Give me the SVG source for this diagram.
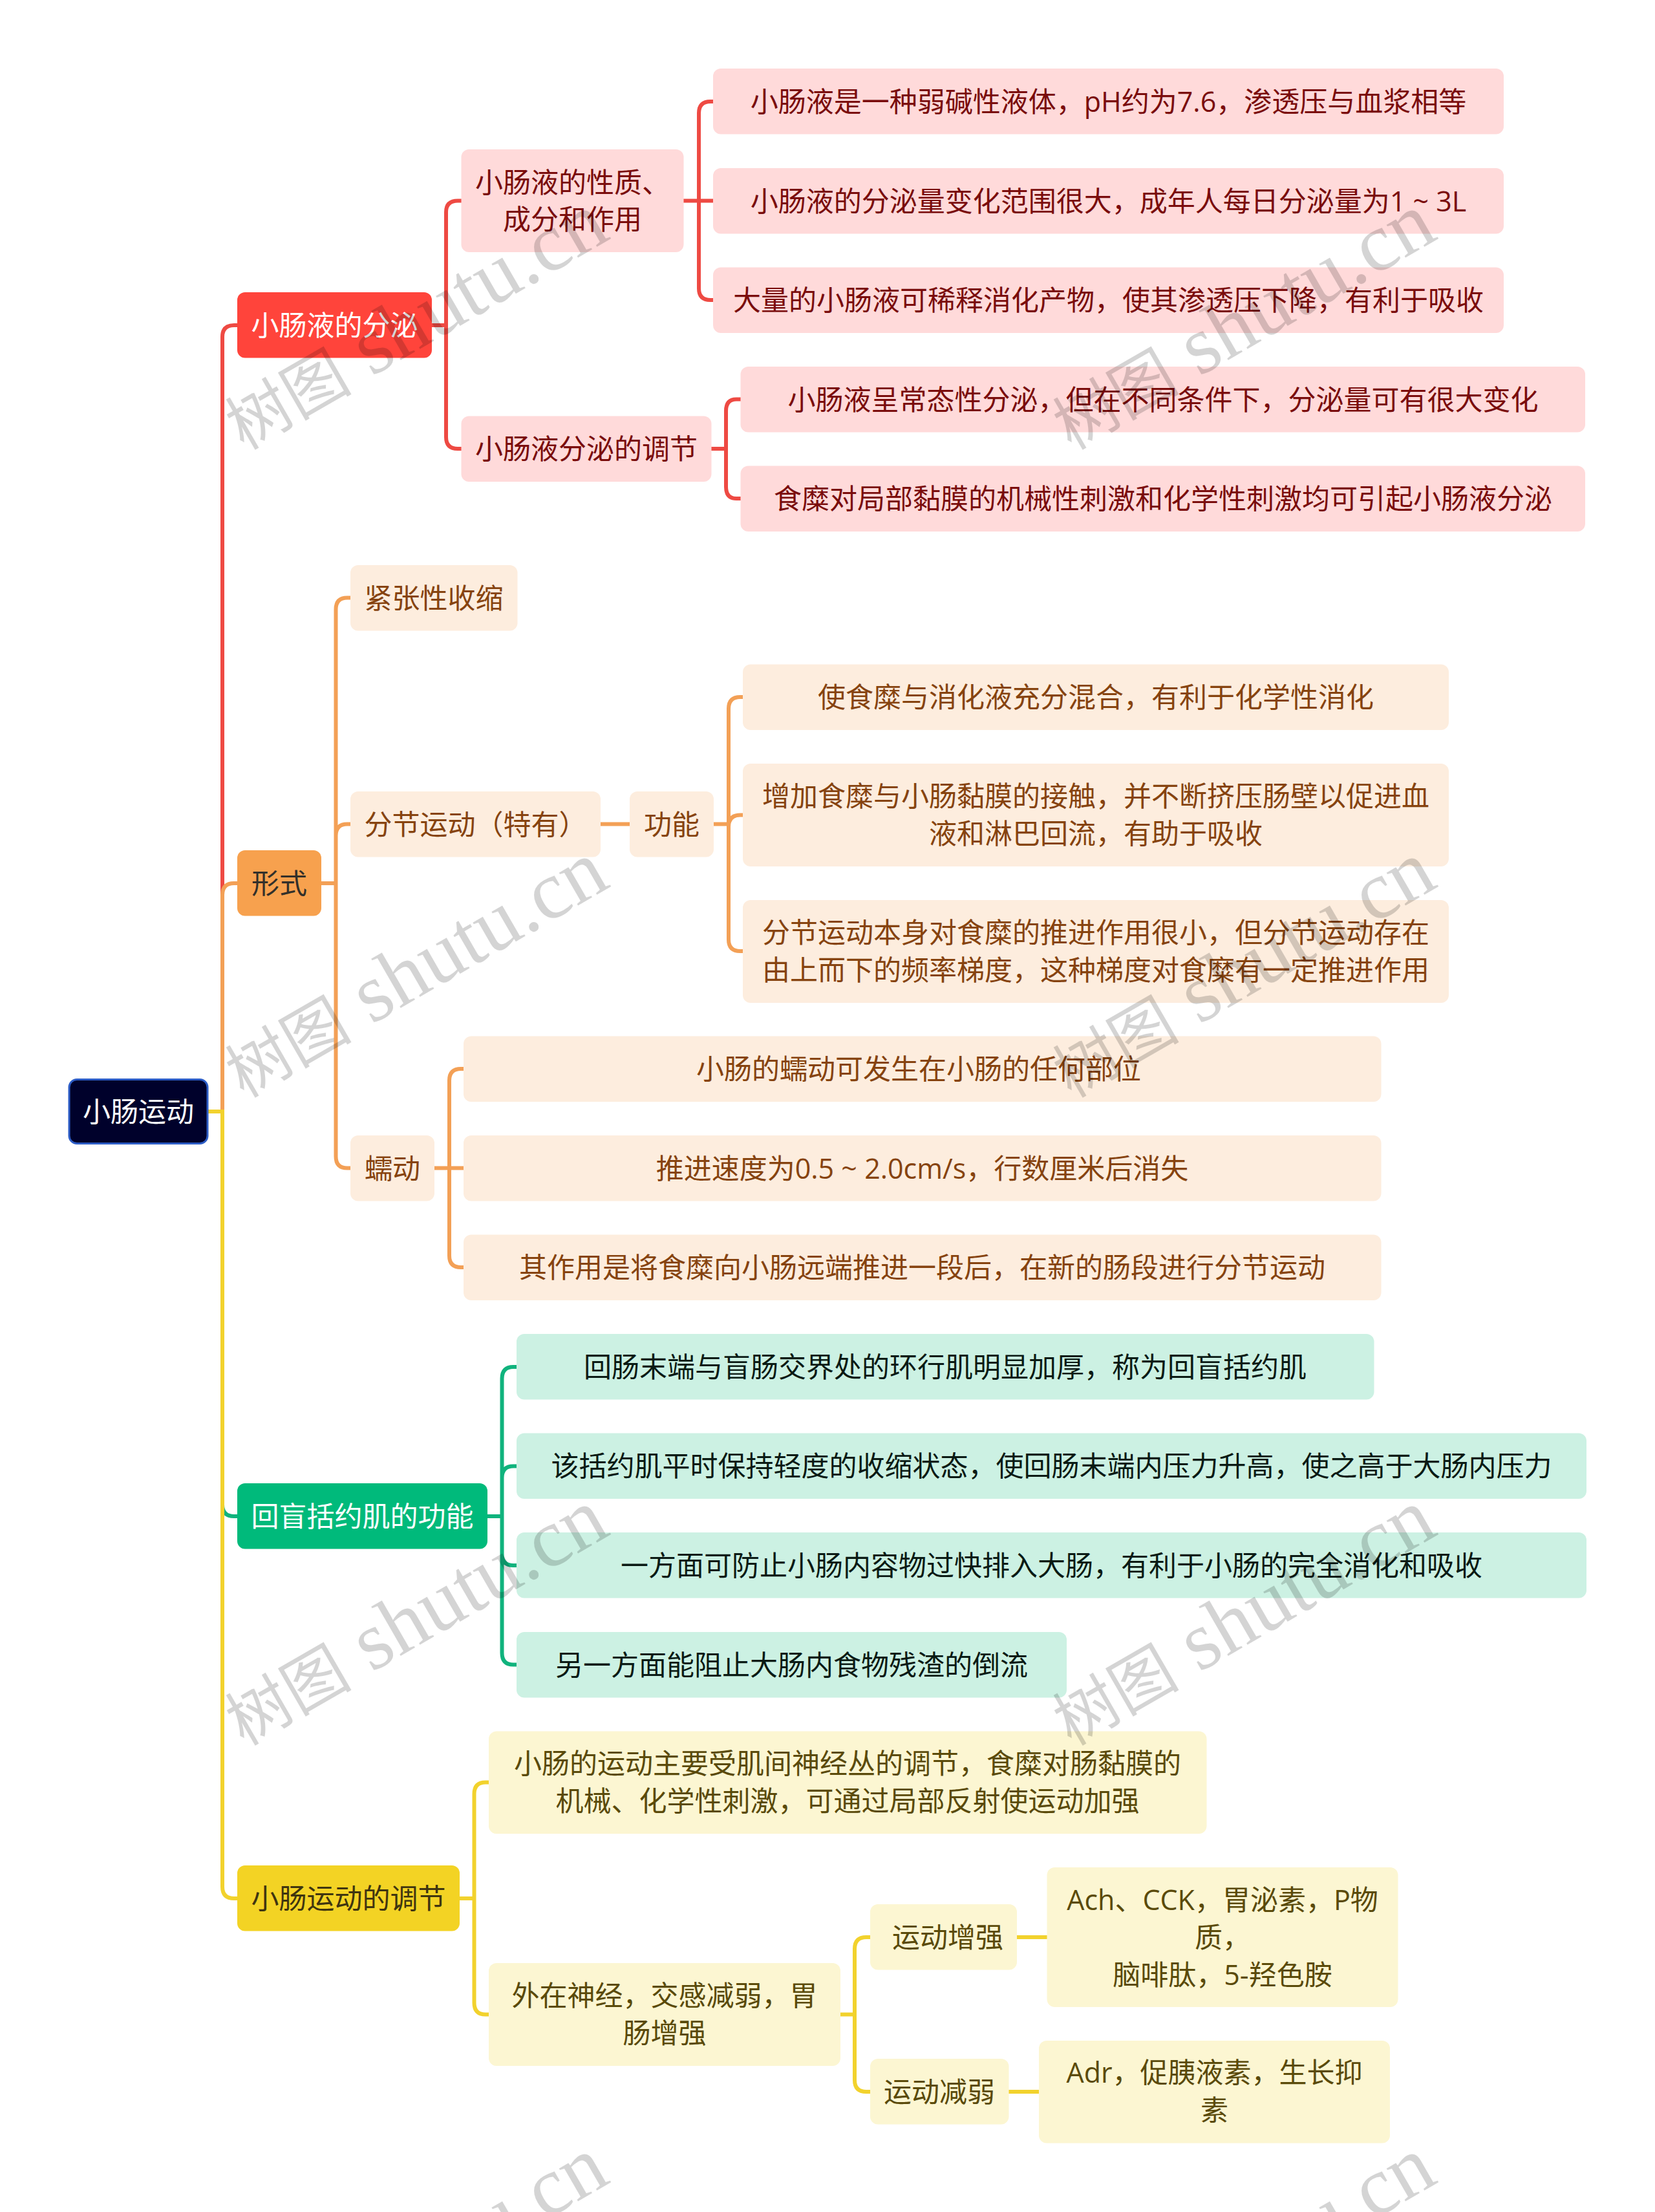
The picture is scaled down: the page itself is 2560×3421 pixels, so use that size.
<svg xmlns="http://www.w3.org/2000/svg" width="2560" height="3421" viewBox="0 0 2560 3421">
<style>
text{font-family:"Open Sans","Noto Sans CJK SC",sans-serif;font-size:43px;text-anchor:middle}
.w text{font-family:"Liberation Serif","Noto Sans CJK SC",serif;font-size:128px;text-anchor:end;fill:#000;fill-opacity:.17}
.w tspan{font-size:98px}
.c path{fill:none;stroke-width:6}
.cr{stroke:#EE4A43}.co{stroke:#F3A056}.cg{stroke:#10B37D}.cy{stroke:#F2D22D}
.r1{fill:#FF443B}.r2{fill:#FFDADA}.o1{fill:#F7A14E}.o2{fill:#FDEDDE}.g1{fill:#00BA7B}.g2{fill:#CCF1E3}.y1{fill:#F3D324}.y2{fill:#FCF6D2}
.tr{fill:#7A0C0C}.to{fill:#86430F}.tg{fill:#0A1A14}.ty{fill:#5A4A0A}.tw{fill:#fff}.td{fill:#3F3510}.tf{fill:#33302A}
</style>
<rect width="2560" height="3421" fill="#fff"/>
<g id="connectors" class="c">
<path class="cr" d="M321 1719H344V521Q344 503 362 503H367"/>
<path class="co" d="M321 1719H344V1384Q344 1366 362 1366H367"/>
<path class="cg" d="M321 1719H344V2327Q344 2345 362 2345H367"/>
<path class="cy" d="M321 1719H344V2918Q344 2936 362 2936H367"/>
<path class="cr" d="M668 503H690M690 503V328Q690 310.500 708 310.500H714M690 503V676Q690 694 708 694H714"/>
<path class="cr" d="M1057 310.500H1103M1081 310.500V175Q1081 157 1099 157H1103M1081 310.500V446Q1081 464 1099 464H1103"/>
<path class="cr" d="M1100 694H1123M1123 694V635.500Q1123 617.500 1139 617.500H1146M1123 694V753Q1123 771 1139 771H1146"/>
<path class="co" d="M497 1366H519.500M519.500 1366V942.500Q519.500 924.500 537 924.500H542M519.500 1366V1292.500Q519.500 1274.500 537 1274.500H542M519.500 1366V1788.500Q519.500 1806.500 537 1806.500H542"/>
<path class="co" d="M929 1274.500H974"/>
<path class="co" d="M1104 1274.500H1127M1127 1274.500V1096Q1127 1078 1145 1078H1149M1127 1274.500V1278.500Q1127 1260.500 1145 1260.500H1149M1127 1274.500V1453Q1127 1471 1145 1471H1149"/>
<path class="co" d="M672 1806.500H717M695 1806.500V1671Q695 1653 713 1653H717M695 1806.500V1942Q695 1960 713 1960H717"/>
<path class="cg" d="M754 2345H776.500M776.500 2345V2132Q776.500 2114 794 2114H799M776.500 2345V2285.500Q776.500 2267.500 794 2267.500H799M776.500 2345V2403Q776.500 2421 794 2421H799M776.500 2345V2556.500Q776.500 2574.500 794 2574.500H799"/>
<path class="cy" d="M711 2936H733.500M733.500 2936V2774.500Q733.500 2756.500 751 2756.500H756M733.500 2936V3097.500Q733.500 3115.500 751 3115.500H756"/>
<path class="cy" d="M1300 3115.500H1322M1322 3115.500V3014Q1322 2996 1340 2996H1346M1322 3115.500V3217Q1322 3235 1340 3235H1346"/>
<path class="cy" d="M1573 2996H1620"/>
<path class="cy" d="M1560 3235H1607"/>
</g>
<g id="root"><rect x="107" y="1669.500" width="214" height="99" rx="12" fill="#00012B" stroke="#2C5CC5" stroke-width="3"/><text class="tw" x="214" y="1735">小肠运动</text></g>
<g id="n1"><rect class="r1" x="367" y="452" width="301" height="101.500" rx="12"/><text class="tw" x="517.500" y="519">小肠液的分泌</text></g>
<g id="n1a"><rect class="r2" x="713.500" y="231" width="344" height="159" rx="12"/><text class="tr" x="885.500" y="297.500">小肠液的性质、</text><text class="tr" x="885.500" y="355">成分和作用</text></g>
<g id="n1a1"><rect class="r2" x="1103" y="106" width="1223" height="101.500" rx="12"/><text class="tr" x="1714.500" y="173">小肠液是一种弱碱性液体，pH约为7.6，渗透压与血浆相等</text></g>
<g id="n1a2"><rect class="r2" x="1103" y="260" width="1223" height="101.500" rx="12"/><text class="tr" x="1714.500" y="326.500">小肠液的分泌量变化范围很大，成年人每日分泌量为1 ~ 3L</text></g>
<g id="n1a3"><rect class="r2" x="1103" y="413.500" width="1223" height="101.500" rx="12"/><text class="tr" x="1714.500" y="480">大量的小肠液可稀释消化产物，使其渗透压下降，有利于吸收</text></g>
<g id="n1b"><rect class="r2" x="713.500" y="643.500" width="387" height="101.500" rx="12"/><text class="tr" x="907" y="710">小肠液分泌的调节</text></g>
<g id="n1b1"><rect class="r2" x="1145.500" y="567" width="1306.500" height="101.500" rx="12"/><text class="tr" x="1799" y="633.500">小肠液呈常态性分泌，但在不同条件下，分泌量可有很大变化</text></g>
<g id="n1b2"><rect class="r2" x="1145.500" y="720.500" width="1306.500" height="101.500" rx="12"/><text class="tr" x="1799" y="787">食糜对局部黏膜的机械性刺激和化学性刺激均可引起小肠液分泌</text></g>
<g id="n2"><rect class="o1" x="367" y="1315" width="130" height="101.500" rx="12"/><text class="tf" x="432" y="1382">形式</text></g>
<g id="n2a"><rect class="o2" x="542" y="874" width="258.500" height="101.500" rx="12"/><text class="to" x="671" y="940.500">紧张性收缩</text></g>
<g id="n2b"><rect class="o2" x="542" y="1224" width="387" height="101.500" rx="12"/><text class="to" x="735.500" y="1290.500">分节运动（特有）</text></g>
<g id="n2b1"><rect class="o2" x="974" y="1224" width="130" height="101.500" rx="12"/><text class="to" x="1039" y="1290.500">功能</text></g>
<g id="n2b1a"><rect class="o2" x="1149" y="1027.500" width="1092" height="101.500" rx="12"/><text class="to" x="1695" y="1094">使食糜与消化液充分混合，有利于化学性消化</text></g>
<g id="n2b1b"><rect class="o2" x="1149" y="1181" width="1092" height="159" rx="12"/><text class="to" x="1695" y="1247">增加食糜与小肠黏膜的接触，并不断挤压肠壁以促进血</text><text class="to" x="1695" y="1304.500">液和淋巴回流，有助于吸收</text></g>
<g id="n2b1c"><rect class="o2" x="1149" y="1392" width="1092" height="159" rx="12"/><text class="to" x="1695" y="1458">分节运动本身对食糜的推进作用很小，但分节运动存在</text><text class="to" x="1695" y="1515.500">由上而下的频率梯度，这种梯度对食糜有一定推进作用</text></g>
<g id="n2c"><rect class="o2" x="542" y="1756" width="130" height="101.500" rx="12"/><text class="to" x="607" y="1822.500">蠕动</text></g>
<g id="n2c1"><rect class="o2" x="717" y="1602.500" width="1419.500" height="101.500" rx="12"/><text class="to" x="1421" y="1669">小肠的蠕动可发生在小肠的任何部位</text></g>
<g id="n2c2"><rect class="o2" x="717" y="1756" width="1419.500" height="101.500" rx="12"/><text class="to" x="1426.500" y="1822.500">推进速度为0.5 ~ 2.0cm/s，行数厘米后消失</text></g>
<g id="n2c3"><rect class="o2" x="717" y="1909.500" width="1419.500" height="101.500" rx="12"/><text class="to" x="1426.500" y="1976">其作用是将食糜向小肠远端推进一段后，在新的肠段进行分节运动</text></g>
<g id="n3"><rect class="g1" x="367" y="2294" width="387" height="101.500" rx="12"/><text class="tw" x="560.500" y="2360.500">回盲括约肌的功能</text></g>
<g id="n3a"><rect class="g2" x="799" y="2063" width="1326.500" height="101.500" rx="12"/><text class="tg" x="1462" y="2129.500">回肠末端与盲肠交界处的环行肌明显加厚，称为回盲括约肌</text></g>
<g id="n3b"><rect class="g2" x="799" y="2216.500" width="1655" height="101.500" rx="12"/><text class="tg" x="1626.500" y="2283">该括约肌平时保持轻度的收缩状态，使回肠末端内压力升高，使之高于大肠内压力</text></g>
<g id="n3c"><rect class="g2" x="799" y="2370" width="1655" height="101.500" rx="12"/><text class="tg" x="1626.500" y="2436.500">一方面可防止小肠内容物过快排入大肠，有利于小肠的完全消化和吸收</text></g>
<g id="n3d"><rect class="g2" x="799" y="2524" width="851" height="101.500" rx="12"/><text class="tg" x="1224.500" y="2590.500">另一方面能阻止大肠内食物残渣的倒流</text></g>
<g id="n4"><rect class="y1" x="367" y="2885" width="344" height="101.500" rx="12"/><text class="td" x="539" y="2951.500">小肠运动的调节</text></g>
<g id="n4a"><rect class="y2" x="756" y="2677.500" width="1110.500" height="158.500" rx="12"/><text class="ty" x="1311" y="2743">小肠的运动主要受肌间神经丛的调节，食糜对肠黏膜的</text><text class="ty" x="1311" y="2801">机械、化学性刺激，可通过局部反射使运动加强</text></g>
<g id="n4b"><rect class="y2" x="756" y="3036" width="544" height="159" rx="12"/><text class="ty" x="1028" y="3102">外在神经，交感减弱，胃</text><text class="ty" x="1028" y="3159.500">肠增强</text></g>
<g id="n4b1"><rect class="y2" x="1346" y="2945" width="227" height="101.500" rx="12"/><text class="ty" x="1466" y="3011.500">运动增强</text></g>
<g id="n4b1a"><rect class="y2" x="1619.500" y="2888" width="543" height="216" rx="12"/><text class="ty" x="1891" y="2954">Ach、CCK，胃泌素，P物</text><text class="ty" x="1891" y="3012">质，</text><text class="ty" x="1891" y="3069.500">脑啡肽，5-羟色胺</text></g>
<g id="n4b2"><rect class="y2" x="1346" y="3184" width="214.500" height="101.500" rx="12"/><text class="ty" x="1453" y="3250.500">运动减弱</text></g>
<g id="n4b2a"><rect class="y2" x="1607" y="3156" width="543" height="158.500" rx="12"/><text class="ty" x="1878.500" y="3221">Adr，促胰液素，生长抑</text><text class="ty" x="1878.500" y="3279">素</text></g>
<g id="watermarks" class="w">
<text transform="translate(947 368) rotate(-30)"><tspan>树图</tspan> shutu.cn</text>
<text transform="translate(2227 368) rotate(-30)"><tspan>树图</tspan> shutu.cn</text>
<text transform="translate(947 1370) rotate(-30)"><tspan>树图</tspan> shutu.cn</text>
<text transform="translate(2227 1370) rotate(-30)"><tspan>树图</tspan> shutu.cn</text>
<text transform="translate(947 2372) rotate(-30)"><tspan>树图</tspan> shutu.cn</text>
<text transform="translate(2227 2372) rotate(-30)"><tspan>树图</tspan> shutu.cn</text>
<text transform="translate(947 3374) rotate(-30)"><tspan>树图</tspan> shutu.cn</text>
<text transform="translate(2227 3374) rotate(-30)"><tspan>树图</tspan> shutu.cn</text>
</g>
</svg>
